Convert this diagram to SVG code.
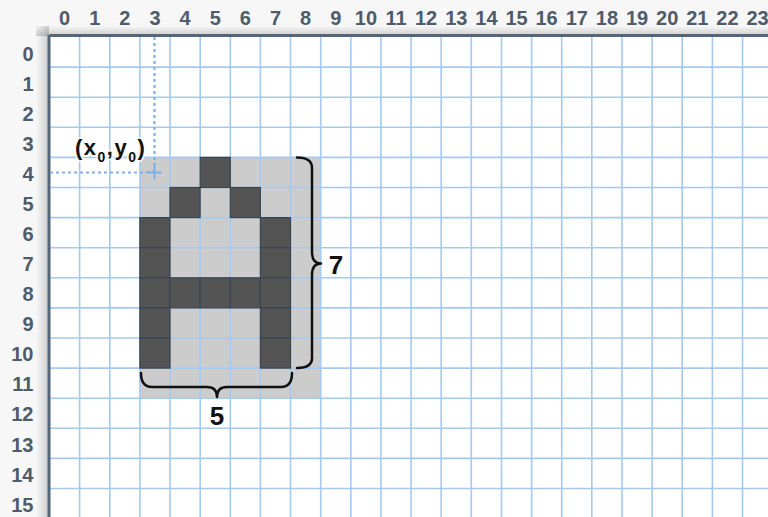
<svg xmlns="http://www.w3.org/2000/svg" width="768" height="517" viewBox="0 0 768 517">
<defs>
<linearGradient id="shTop" x1="0" y1="0" x2="0" y2="1">
<stop offset="0" stop-color="#000" stop-opacity="0"/>
<stop offset="1" stop-color="#000" stop-opacity="0.18"/>
</linearGradient>
<linearGradient id="shLeft" x1="0" y1="0" x2="1" y2="0">
<stop offset="0" stop-color="#000" stop-opacity="0"/>
<stop offset="1" stop-color="#000" stop-opacity="0.18"/>
</linearGradient>
<style>
.lbl{font-family:"Liberation Sans",Arial,sans-serif;font-size:20px;font-weight:bold;fill:#4d5b6b;text-anchor:middle}
.rl{text-anchor:end}
.grid{stroke:#a6c9ef;stroke-width:1.6;fill:none}
.dark{fill:#545454;stroke:#3b4550;stroke-width:1.2}
.brace{fill:none;stroke:#111;stroke-width:2.5;stroke-linecap:round;stroke-linejoin:round}
.big{font-family:"Liberation Sans",Arial,sans-serif;font-size:26px;font-weight:bold;fill:#111;text-anchor:middle}
.dot{stroke:#7fb0ea;stroke-width:2.2;stroke-dasharray:3 3;fill:none}
</style>
</defs>
<rect width="768" height="517" fill="#fff"/>
<rect x="0" y="0" width="768" height="37" fill="#f7f7f7"/>
<rect x="0" y="0" width="49" height="517" fill="#f7f7f7"/>
<rect x="36" y="26" width="732" height="10" fill="url(#shTop)"/>
<rect x="36" y="26" width="13" height="491" fill="url(#shLeft)"/>
<rect x="49.5" y="37" width="718.5" height="480" fill="#fff"/>

<g id="glyph-background">
<rect x="139.9" y="157.4" width="180.8" height="240.8" fill="#cccccc"/>
</g>

<g id="grid">
<path class="grid" d="M79.6 37V517M109.8 37V517M139.9 37V517M170 37V517M200.2 37V517M230.3 37V517M260.4 37V517M290.5 37V517M320.7 37V517M350.8 37V517M380.9 37V517M411.1 37V517M441.2 37V517M471.3 37V517M501.5 37V517M531.6 37V517M561.7 37V517M591.8 37V517M622 37V517M652.1 37V517M682.2 37V517M712.4 37V517M742.5 37V517"/>
<path class="grid" d="M49.5 67.1H768M49.5 97.2H768M49.5 127.3H768M49.5 157.4H768M49.5 187.5H768M49.5 217.6H768M49.5 247.7H768M49.5 277.8H768M49.5 307.9H768M49.5 338H768M49.5 368.1H768M49.5 398.2H768M49.5 428.3H768M49.5 458.4H768M49.5 488.5H768"/>
</g>

<g id="glyph-pixels">
<rect class="dark" x="200.2" y="157.4" width="30.1" height="30.1"/>
<rect class="dark" x="170" y="187.5" width="30.1" height="30.1"/>
<rect class="dark" x="230.3" y="187.5" width="30.1" height="30.1"/>
<rect class="dark" x="139.9" y="217.6" width="30.1" height="30.1"/>
<rect class="dark" x="260.4" y="217.6" width="30.1" height="30.1"/>
<rect class="dark" x="139.9" y="247.7" width="30.1" height="30.1"/>
<rect class="dark" x="260.4" y="247.7" width="30.1" height="30.1"/>
<rect class="dark" x="139.9" y="277.8" width="30.1" height="30.1"/>
<rect class="dark" x="170" y="277.8" width="30.1" height="30.1"/>
<rect class="dark" x="200.2" y="277.8" width="30.1" height="30.1"/>
<rect class="dark" x="230.3" y="277.8" width="30.1" height="30.1"/>
<rect class="dark" x="260.4" y="277.8" width="30.1" height="30.1"/>
<rect class="dark" x="139.9" y="307.9" width="30.1" height="30.1"/>
<rect class="dark" x="260.4" y="307.9" width="30.1" height="30.1"/>
<rect class="dark" x="139.9" y="338" width="30.1" height="30.1"/>
<rect class="dark" x="260.4" y="338" width="30.1" height="30.1"/>
</g>

<g id="borders">
<line x1="49.5" y1="35.5" x2="768" y2="35.5" stroke="#53667a" stroke-width="3"/>
<line x1="49" y1="35" x2="49" y2="517" stroke="#53667a" stroke-width="3"/>
</g>

<g id="column-labels">
<text class="lbl" x="64.6" y="24.5">0</text><text class="lbl" x="94.7" y="24.5">1</text><text class="lbl" x="124.8" y="24.5">2</text><text class="lbl" x="155" y="24.5">3</text><text class="lbl" x="185.1" y="24.5">4</text><text class="lbl" x="215.2" y="24.5">5</text><text class="lbl" x="245.3" y="24.5">6</text><text class="lbl" x="275.5" y="24.5">7</text><text class="lbl" x="305.6" y="24.5">8</text><text class="lbl" x="335.7" y="24.5">9</text><text class="lbl" x="365.9" y="24.5">10</text><text class="lbl" x="396" y="24.5">11</text><text class="lbl" x="426.1" y="24.5">12</text><text class="lbl" x="456.3" y="24.5">13</text><text class="lbl" x="486.4" y="24.5">14</text><text class="lbl" x="516.5" y="24.5">15</text><text class="lbl" x="546.6" y="24.5">16</text><text class="lbl" x="576.8" y="24.5">17</text><text class="lbl" x="606.9" y="24.5">18</text><text class="lbl" x="637" y="24.5">19</text><text class="lbl" x="667.2" y="24.5">20</text><text class="lbl" x="697.3" y="24.5">21</text><text class="lbl" x="727.4" y="24.5">22</text><text class="lbl" x="757.6" y="24.5">23</text>
</g>
<g id="row-labels">
<text class="lbl rl" x="33.5" y="61">0</text><text class="lbl rl" x="33.5" y="91">1</text><text class="lbl rl" x="33.5" y="121">2</text><text class="lbl rl" x="33.5" y="151">3</text><text class="lbl rl" x="33.5" y="181">4</text><text class="lbl rl" x="33.5" y="211">5</text><text class="lbl rl" x="33.5" y="241">6</text><text class="lbl rl" x="33.5" y="271">7</text><text class="lbl rl" x="33.5" y="301">8</text><text class="lbl rl" x="33.5" y="331">9</text><text class="lbl rl" x="33.5" y="361">10</text><text class="lbl rl" x="33.5" y="391">11</text><text class="lbl rl" x="33.5" y="421">12</text><text class="lbl rl" x="33.5" y="452">13</text><text class="lbl rl" x="33.5" y="482">14</text><text class="lbl rl" x="33.5" y="512">15</text>
</g>

<g id="origin">
<path class="dot" d="M154.5 37V172.5M50 172.5H161"/>
<path d="M154.5 165.5V179.5M147.5 172.5H161.5" stroke="#7fb0ea" stroke-width="2" fill="none"/>
<text x="75" y="155" font-family="Liberation Sans, Arial, sans-serif" font-size="22" font-weight="bold" letter-spacing="1.5" fill="#111" stroke="#fff" stroke-width="4" stroke-opacity="0.7" paint-order="stroke">(x<tspan font-size="14" dy="7">0</tspan><tspan dy="-7">,y</tspan><tspan font-size="14" dy="7">0</tspan><tspan dy="-7">)</tspan></text>
</g>

<g id="connectors">
<path class="brace" d="M297 157.5Q312 157.5 312 168V252Q312 263.5 321 263.5Q312 263.5 312 275V358Q312 368 297 368"/>
<path class="brace" d="M141 373Q141 387 152 387H207Q217 387 217 397Q217 387 227 387H281Q292 387 292 373"/>
</g>
<g id="height-label"><text class="big" x="336" y="274">7</text></g>
<g id="width-label"><text class="big" x="217" y="425">5</text></g>
</svg>
